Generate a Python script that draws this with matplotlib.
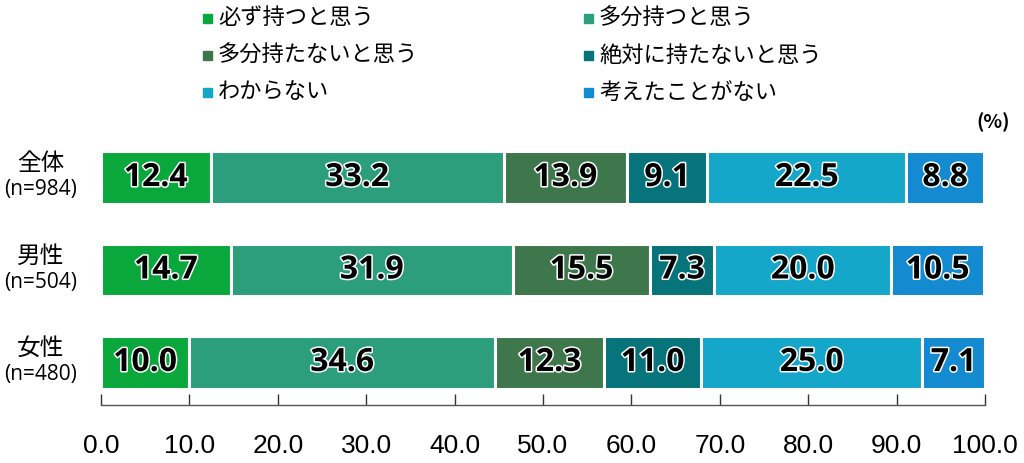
import matplotlib
matplotlib.use("Agg")
import matplotlib.pyplot as plt
import matplotlib.patheffects as pe
import numpy as np

plt.rcParams['font.family'] = ['Noto Sans CJK JP', 'DejaVu Sans']

groups = ["全体", "男性", "女性"]
group_n = ["(n=984)", "(n=504)", "(n=480)"]
series = ["必ず持つと思う", "多分持つと思う", "多分持たないと思う",
          "絶対に持たないと思う", "わからない", "考えたことがない"]
values = [
    [12.4, 14.7, 10.0],
    [33.2, 31.9, 34.6],
    [13.9, 15.5, 12.3],
    [9.1, 7.3, 11.0],
    [22.5, 20.0, 25.0],
    [8.8, 10.5, 7.1],
]
colors = ["#0aa83c", "#2c9e7c", "#3f774c", "#07737a", "#14a7c9", "#148ad0"]
xticks = [0, 10, 20, 30, 40, 50, 60, 70, 80, 90, 100]

fig = plt.figure(figsize=(10.24, 4.63), dpi=100)
ax = fig.add_axes([101/1024, 1-405/463, (985-101)/1024, (405-130)/463])

y = np.arange(len(groups))
left = np.zeros(len(groups))
for s, vals, c in zip(series, values, colors):
    vals = np.array(vals)
    ax.barh(y, vals, left=left, height=0.565, color=c,
            edgecolor="white", linewidth=2.2, label=s)
    for yi, l, v in zip(y, left, vals):
        ax.text(l + v/2, yi, f"{v:.1f}", ha="center", va="center",
                fontsize=23, fontweight="bold", color="#000000",
                family=['Open Sans', 'DejaVu Sans'],
                path_effects=[pe.Stroke(linewidth=2.2, foreground="white"),
                              pe.Normal()])
    left += vals

ax.set_xlim(0, 100)
ax.set_ylim(2.46, -0.514)
ax.set_yticks([])
ax.set_xticks(xticks)
ax.set_xticklabels([f"{t:.1f}" for t in xticks],
                   family=['Liberation Sans Narrow', 'Liberation Sans'], fontsize=19)
ax.tick_params(axis="x", direction="in", length=8, width=1, pad=21, colors="#333333",
               labelcolor="black")
for sp in ["top", "right", "left"]:
    ax.spines[sp].set_visible(False)
ax.spines["bottom"].set_color("#555555")
ax.spines["bottom"].set_linewidth(1)

# category labels
for yi, g, n in zip(y, groups, group_n):
    ax.text(-0.068, yi - 0.15, g, transform=ax.get_yaxis_transform(),
            ha="center", va="center", fontsize=17)
    ax.text(-0.068, yi + 0.13, n, transform=ax.get_yaxis_transform(),
            ha="center", va="center", fontsize=15, family=['Open Sans', 'DejaVu Sans'])

fig.text(993/1024, 1-122/463, "(%)", ha="center", va="center",
         fontsize=14, fontweight="bold")

# legend (manual, 2 columns row-wise)
col_x = [207, 588]
row_y = [18, 55, 92]
for i, (s, c) in enumerate(zip(series, colors)):
    cx = col_x[i % 2]
    ry = row_y[i // 2]
    fig.patches.append(plt.Rectangle(((cx-4)/1024, 1-(ry+5)/463), 9/1024, 9/463,
                                     transform=fig.transFigure, color=c))
    fig.text((cx+11)/1024, 1-ry/463, s, ha="left", va="center", fontsize=16)

fig.savefig("out.png", dpi=100)
